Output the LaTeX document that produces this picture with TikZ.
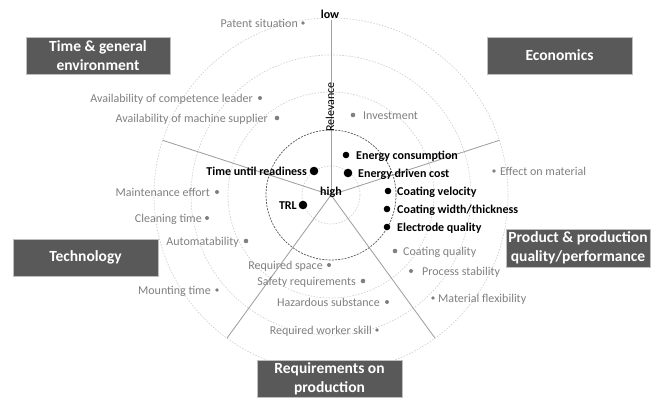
\documentclass[tikz,border=0pt]{standalone}
\usepackage{fontspec}
\setmainfont{Carlito}
\usetikzlibrary{calc}
\definecolor{boxfill}{HTML}{595959}
\definecolor{boxedge}{HTML}{BFBFBF}
\definecolor{txtgray}{HTML}{808080}
\definecolor{ringgray}{HTML}{CCCCCC}
\definecolor{axisgray}{HTML}{A0A0A0}
\definecolor{ringdark}{HTML}{555555}
\begin{document}
\begin{tikzpicture}[x=1pt,y=-1pt,
  titlebox/.style={fill=boxfill, draw=boxedge, line width=1pt, text=white,
    font=\fontsize{15.5}{19}\selectfont\bfseries, align=center, inner sep=0pt,
    minimum height=37pt},
  ring/.style={draw=ringgray, line width=0.6pt, dash pattern=on 1.5pt off 1.5pt},
  ringmain/.style={draw=ringdark, line width=0.7pt, dash pattern=on 2pt off 1.2pt},
  sep/.style={draw=axisgray, line width=0.85pt},
  gdot/.style={circle, fill=txtgray, inner sep=0pt, minimum size=4pt},
  bdot/.style={circle, fill=black, inner sep=0pt, minimum size=6.6pt},
  bigdot/.style={circle, fill=black, inner sep=0pt, minimum size=8.6pt},
  glab/.style={text=txtgray, font=\fontsize{12}{14}\selectfont, inner sep=0pt,
    text height=9pt, text depth=1pt},
  blab/.style={text=black, font=\fontsize{12}{14}\selectfont\bfseries, inner sep=0pt,
    text height=9pt, text depth=1pt},
  axlab/.style={text=black, font=\fontsize{12}{14}\selectfont, inner sep=0pt}
]
\useasboundingbox (0,0) rectangle (655,399);
\fill[white] (0,0) rectangle (655,399);

\coordinate (O) at (331,195);

% rings
\draw[ring] (O) circle[radius=177pt];
\draw[ring] (O) circle[radius=140pt];
\draw[ring] (O) circle[radius=103pt];
\draw[ringmain] (O) circle[radius=65pt];
\draw[ring] (O) circle[radius=29pt];

% separators and axis
\coordinate (sA) at ($(O)+(18:177pt)$);
\coordinate (sB) at ($(O)+(162:177pt)$);
\coordinate (sC) at ($(O)+(234:177pt)$);
\coordinate (sD) at ($(O)+(306:177pt)$);
\coordinate (top) at ($(O)+(90:175pt)$);
\draw[sep] (O) -- (sA);
\draw[sep] (O) -- (sB);
\draw[sep] (O) -- (sC);
\draw[sep] (O) -- (sD);
\draw[sep] (O) -- (top);

% axis labels
\node[blab, text height=8pt, text depth=3pt] (low) at (330,16) {low};
\node[blab, text height=8pt, text depth=3pt] (high) at (331,193) {high};
\node[axlab, rotate=90] (rel) at (330,107) {Relevance};

% title boxes
\node[titlebox, minimum width=144pt] (tg) at (98,55.5) {Time \& general\\environment};
\node[titlebox, minimum width=145pt] (eco) at (559.5,55.5) {Economics};
\node[titlebox, minimum width=145pt] (tech) at (85.5,257.5) {Technology};
\node[titlebox, minimum width=144pt, minimum height=38pt] (prod) at (578,248) {Product \& production\\quality/performance};
\node[titlebox, minimum width=145pt] (req) at (329.5,378.5) {Requirements on\\production};

% gray items, label on the left
\node[gdot, minimum size=3.6pt] (d1) at (303,23) {};
\node[glab, anchor=east] (l1) at (298,23) {Patent situation};
\node[gdot] (d2) at (260,98) {};
\node[glab, anchor=east] (l2) at (253,98) {Availability of competence leader};
\node[gdot, minimum size=4.6pt] (d3) at (277,118) {};
\node[glab, anchor=east] (l3) at (268,118) {Availability of machine supplier};
\node[gdot] (d4) at (217,192) {};
\node[glab, anchor=east] (l4) at (210,192) {Maintenance effort};
\node[gdot] (d5) at (207,218) {};
\node[glab, anchor=east] (l5) at (202,218) {Cleaning time};
\node[gdot, minimum size=4.6pt] (d6) at (246,241) {};
\node[glab, anchor=east] (l6) at (239,241) {Automatability};
\node[gdot, minimum size=3.6pt] (d7) at (217,290) {};
\node[glab, anchor=east] (l7) at (211,290) {Mounting time};
\node[gdot] (d8) at (329,265) {};
\node[glab, anchor=east] (l8) at (323,265) {Required space};
\node[gdot, minimum size=4.6pt] (d9) at (363,281) {};
\node[glab, anchor=east] (l9) at (356,281) {Safety requirements};
\node[gdot] (d10) at (387,302) {};
\node[glab, anchor=east] (l10) at (380,302) {Hazardous substance};
\node[gdot, minimum size=3.6pt] (d11) at (377,330) {};
\node[glab, anchor=east] (l11) at (372,330) {Required worker skill};

% gray items, label on the right
\node[gdot, minimum size=4.6pt] (d12) at (353,115) {};
\node[glab, anchor=west] (l12) at (363,115) {Investment};
\node[gdot, minimum size=3.6pt] (d13) at (494,171) {};
\node[glab, anchor=west] (l13) at (500,171) {Effect on material};
\node[gdot, minimum size=4.6pt] (d14) at (395,251) {};
\node[glab, anchor=west] (l14) at (403,251) {Coating quality};
\node[gdot] (d15) at (411,271) {};
\node[glab, anchor=west] (l15) at (422,271) {Process stability};
\node[gdot, minimum size=3.6pt] (d16) at (433,298) {};
\node[glab, anchor=west] (l16) at (438,298) {Material flexibility};

% black items
\node[bdot] (b1) at (346,155) {};
\node[blab, anchor=west] (k1) at (356,155) {Energy consumption};
\node[bigdot] (b2) at (348,173) {};
\node[blab, anchor=west] (k2) at (358,173) {Energy driven cost};
\node[bigdot] (b3) at (314,171) {};
\node[blab, anchor=east] (k3) at (307,171) {Time until readiness};
\node[bigdot] (b4) at (303,205) {};
\node[blab, anchor=east] (k4) at (297,205) {TRL};
\node[bdot] (b5) at (388,191) {};
\node[blab, anchor=west] (k5) at (397,191) {Coating velocity};
\node[bdot] (b6) at (387,209) {};
\node[blab, anchor=west] (k6) at (397,209) {Coating width/thickness};
\node[bdot] (b7) at (387,227) {};
\node[blab, anchor=west] (k7) at (397,227) {Electrode quality};
\end{tikzpicture}
\end{document}
